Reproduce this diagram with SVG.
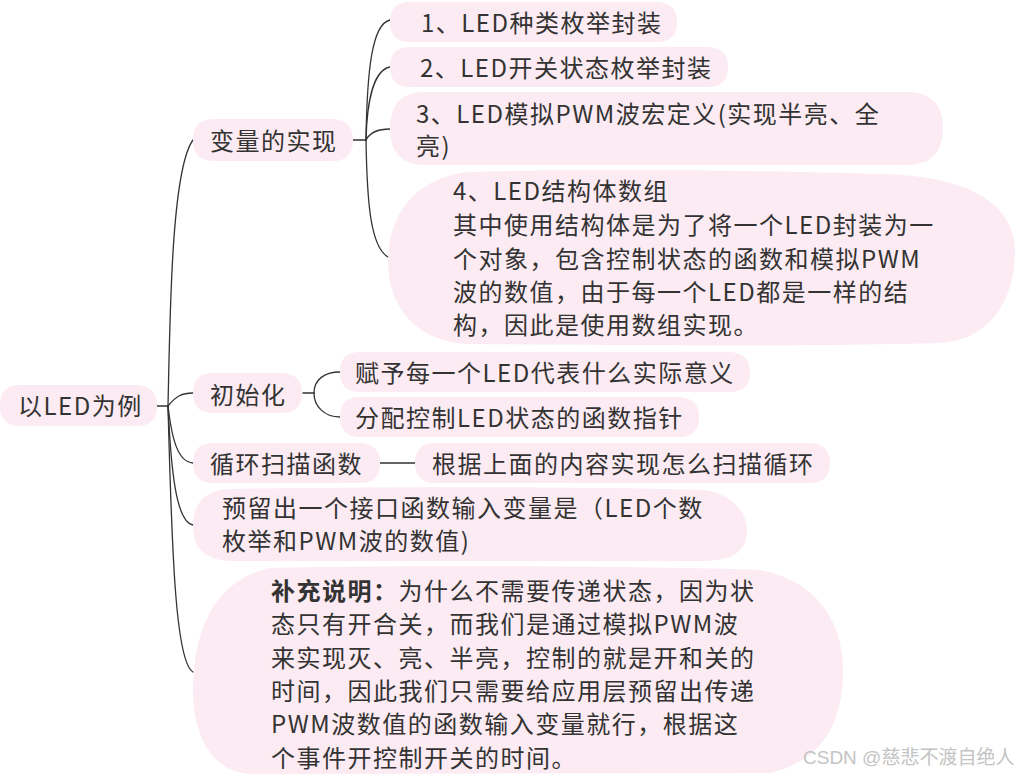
<svg xmlns="http://www.w3.org/2000/svg" width="1017" height="775" viewBox="0 0 1017 775">
<style>
.n{fill:#fcebf2;stroke:none}
.t{font-family:"Noto Sans CJK SC","Microsoft YaHei",sans-serif;font-size:24px;letter-spacing:1.5px;fill:#333}
.b{font-weight:bold}
.c{fill:none;stroke:#333;stroke-width:1.3;stroke-linecap:round}
.w{font-family:"Liberation Sans","Noto Sans CJK SC",sans-serif;font-size:19px;fill:#c4c4c4}
</style>
<rect width="1017" height="775" fill="#fff"/>
<g id="connectors">
<path class="c" d="M157,406 H168"/>
<path class="c" d="M168,406 C170,320 171,170 193,140"/>
<path class="c" d="M168,406 C176,396 182,393 193,393"/>
<path class="c" d="M168,406 C172,440 178,462 193,463"/>
<path class="c" d="M168,406 C171,470 176,522 193,525"/>
<path class="c" d="M168,406 C172,560 176,662 193,672"/>
<path class="c" d="M353,140 H366"/>
<path class="c" d="M366,140 C367,70 372,24 390,20"/>
<path class="c" d="M366,140 C367,100 374,70 390,67"/>
<path class="c" d="M366,140 C370,132 378,129 390,129"/>
<path class="c" d="M366,140 C367,200 370,250 390,258"/>
<path class="c" d="M303,393 H314"/>
<path class="c" d="M314,393 C314,380 324,372 340,372"/>
<path class="c" d="M314,393 C314,406 324,417 340,417"/>
<path class="c" d="M380,463 H415"/>
</g>
<g id="root">
<path class="n" d="M20,385 H137 Q157,386 157,406 Q157,426 137,426 H20 Q0,426 0,406 Q0,385 20,385 Z"/>
<text class="t" x="18" y="415">以LED为例</text>
</g>
<g id="n-vars">
<path class="n" d="M214,119 H333 Q353,120 353,140 Q353,161 333,161 H214 Q193,161 193,140 Q193,119 214,119 Z"/>
<text class="t" x="210" y="149.5">变量的实现</text>
</g>
<g id="n-v1">
<path class="n" d="M410,2 H657 Q677,3 677,22 Q677,42 657,42 H410 Q390,42 390,22 Q390,2 410,2 Z"/>
<text class="t" x="421" y="31.5">1、LED种类枚举封装</text>
</g>
<g id="n-v2">
<path class="n" d="M410,47 H708 Q728,48 728,67 Q728,87 708,87 H410 Q390,87 390,67 Q390,47 410,47 Z"/>
<text class="t" x="420" y="77">2、LED开关状态枚举封装</text>
</g>
<g id="n-v3">
<path class="n" d="M425,92 H910 Q943,94 943,128 Q943,163 910,165 H425 Q390,165 390,128 Q390,92 425,92 Z"/>
<text class="t" x="416" y="122.5">3、LED模拟PWM波宏定义(实现半亮、全</text>
<text class="t" x="416" y="155">亮)</text>
</g>
<g id="n-v4">
<path class="n" d="M470,172 C600,168 800,171 900,175 C985,180 1015,215 1015,250 C1015,300 990,340 940,343 C800,347 600,345 470,344 C420,343 388,310 388,262 C388,210 420,176 470,172 Z"/>
<text class="t" x="453" y="200">4、LED结构体数组</text>
<text class="t" x="453" y="234">其中使用结构体是为了将一个LED封装为一</text>
<text class="t" x="453" y="267.5">个对象，包含控制状态的函数和模拟PWM</text>
<text class="t" x="453" y="301">波的数值，由于每一个LED都是一样的结</text>
<text class="t" x="453" y="334">构，因此是使用数组实现。</text>
</g>
<g id="n-init">
<path class="n" d="M213,373 H282 Q302,374 302,393 Q302,413 282,413 H213 Q193,413 193,393 Q193,373 213,373 Z"/>
<text class="t" x="210" y="404">初始化</text>
</g>
<g id="n-i1">
<path class="n" d="M360,352 H730 Q750,353 750,372 Q750,392 730,392 H360 Q340,392 340,372 Q340,352 360,352 Z"/>
<text class="t" x="355" y="381.5">赋予每一个LED代表什么实际意义</text>
</g>
<g id="n-i2">
<path class="n" d="M360,397 H679 Q699,398 699,417 Q699,437 679,437 H360 Q340,437 340,417 Q340,397 360,397 Z"/>
<text class="t" x="355" y="427">分配控制LED状态的函数指针</text>
</g>
<g id="n-loop">
<path class="n" d="M213,443 H360 Q380,444 380,463 Q380,483 360,483 H213 Q193,483 193,463 Q193,443 213,443 Z"/>
<text class="t" x="210" y="473">循环扫描函数</text>
</g>
<g id="n-l1">
<path class="n" d="M435,443 H810 Q830,444 830,463 Q830,483 810,483 H435 Q415,483 415,463 Q415,443 435,443 Z"/>
<text class="t" x="432" y="473">根据上面的内容实现怎么扫描循环</text>
</g>
<g id="n-iface">
<path class="n" d="M230,489 C400,486 600,487 705,490 C735,495 747,515 747,530 C747,550 735,560 705,561 L230,561 C205,560 193,548 193,526 C193,503 205,490 230,489 Z"/>
<text class="t" x="222" y="516.5">预留出一个接口函数输入变量是（LED个数</text>
<text class="t" x="222" y="550">枚举和PWM波的数值)</text>
</g>
<g id="n-note">
<path class="n" d="M270,568 C400,565 650,566 760,570 C815,580 843,620 843,670 C843,720 825,760 770,773 L250,774 C215,772 193,740 193,690 C193,630 215,580 270,568 Z"/>
<text class="t" x="271" y="600"><tspan class="b">补充说明：</tspan>为什么不需要传递状态，因为状</text>
<text class="t" x="271" y="633">态只有开合关，而我们是通过模拟PWM波</text>
<text class="t" x="271" y="666.5">来实现灭、亮、半亮，控制的就是开和关的</text>
<text class="t" x="271" y="700">时间，因此我们只需要给应用层预留出传递</text>
<text class="t" x="271" y="733">PWM波数值的函数输入变量就行，根据这</text>
<text class="t" x="271" y="766.5">个事件开控制开关的时间。</text>
</g>
<text class="w" x="803" y="763.5">CSDN @慈悲不渡自绝人</text>
</svg>
